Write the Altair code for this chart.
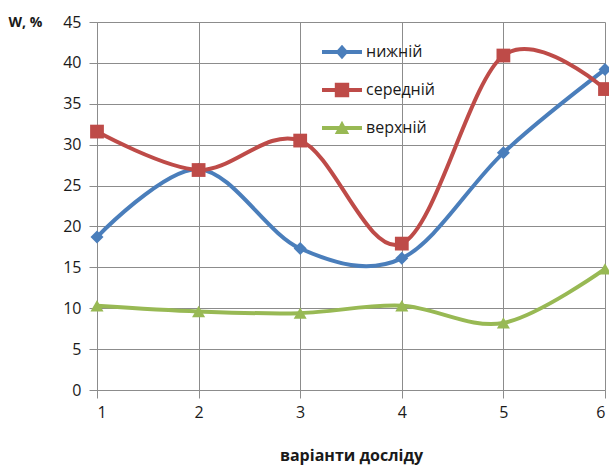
import altair as alt
import pandas as pd

variants = [1, 2, 3, 4, 5, 6]
series_names = ["нижній", "середній", "верхній"]
nyzhnii = [18.7, 27.0, 17.3, 16.1, 29.0, 39.2]
serednii = [31.6, 26.9, 30.5, 17.9, 40.9, 36.8]
verkhnii = [10.3, 9.6, 9.4, 10.3, 8.2, 14.8]
y_ticks = [0, 5, 10, 15, 20, 25, 30, 35, 40, 45]

colors = ["#4A7EBB", "#BE4B48", "#98B954"]
shapes = ["diamond", "square", "triangle-up"]
marker_sizes = [170, 190, 170]

rows = []
for name, vals in zip(series_names, [nyzhnii, serednii, verkhnii]):
    for x, v in zip(variants, vals):
        rows.append({"variant": x, "W": v, "series": name})
df = pd.DataFrame(rows)

FONT = "Open Sans"
GRID = "#8C8C8C"

# legend symbols: a line segment with the series marker in the middle
line_p = "M-1,-0.1L1,-0.1L1,0.1L-1,0.1Z"
diam_p = "M0,-0.36L0.32,0L0,0.36L-0.32,0Z"
sq_p = "M-0.36,-0.36L0.36,-0.36L0.36,0.36L-0.36,0.36Z"
tri_p = "M0,-0.36L0.36,0.3L-0.36,0.3Z"
shape_expr = (
    "datum.value == '" + series_names[0] + "' ? '" + line_p + diam_p + "' : "
    "datum.value == '" + series_names[1] + "' ? '" + line_p + sq_p + "' : '"
    + line_p + tri_p + "'"
)

legend = alt.Legend(
    orient="none",
    legendX=225,
    legendY=10,
    title=None,
    padding=0,
    symbolSize=1600,
    symbolType=alt.ExprRef(expr=shape_expr),
    symbolFillColor=alt.ExprRef(expr="scale('color', datum.value)"),
    symbolStrokeWidth=0,
    symbolOpacity=1,
    rowPadding=10,
    labelOffset=4,
    labelFont=FONT,
    labelFontSize=16,
    labelColor="#1a1a1a",
)

color_scale = alt.Scale(domain=series_names, range=colors)

x_enc = alt.X(
    "variant:Q",
    scale=alt.Scale(domain=[1, 6], nice=False, zero=False),
    axis=alt.Axis(
        values=variants,
        format="d",
        title="варіанти досліду",
        titleFont=FONT,
        titleFontSize=16,
        titleFontWeight="bold",
        titleColor="#1a1a1a",
        titlePadding=27,
        labelFont=FONT,
        labelFontSize=16,
        labelColor="#1a1a1a",
        labelPadding=6,
        tickSize=8,
        tickColor=GRID,
        domainColor=GRID,
        grid=True,
        gridColor=GRID,
        gridWidth=1,
    ),
)
y_enc = alt.Y(
    "W:Q",
    scale=alt.Scale(domain=[0, 45], nice=False),
    axis=alt.Axis(
        values=y_ticks,
        title="W, %",
        titleAngle=0,
        titleX=-89,
        titleY=0,
        titleAlign="left",
        titleBaseline="middle",
        titleFont=FONT,
        titleFontSize=14,
        titleFontWeight="bold",
        titleColor="#1a1a1a",
        labelFont=FONT,
        labelFontSize=16,
        labelColor="#1a1a1a",
        labelPadding=8,
        tickSize=8,
        tickColor=GRID,
        domainColor=GRID,
        grid=True,
        gridColor=GRID,
        gridWidth=1,
    ),
)

lines = alt.Chart(df).mark_line(interpolate="cardinal", strokeWidth=4).encode(
    x=x_enc,
    y=y_enc,
    color=alt.Color("series:N", scale=color_scale, legend=legend, sort=series_names),
    detail="series:N",
)

point_layers = []
for name, shp, sz in zip(series_names, shapes, marker_sizes):
    point_layers.append(
        alt.Chart(df)
        .transform_filter(alt.datum.series == name)
        .mark_point(filled=True, opacity=1, size=sz, shape=shp)
        .encode(
            x="variant:Q",
            y="W:Q",
            color=alt.Color("series:N", scale=color_scale, legend=None),
        )
    )

chart = (
    alt.layer(lines, *point_layers)
    .properties(
        width=508,
        height=368,
        padding={"left": 97, "top": 22, "right": 4, "bottom": 78},
        autosize=alt.AutoSizeParams(type="none"),
        background="white",
    )
    .configure_view(stroke=None)
)

chart.save("out.html", embed_options={"renderer": "svg", "actions": False})
